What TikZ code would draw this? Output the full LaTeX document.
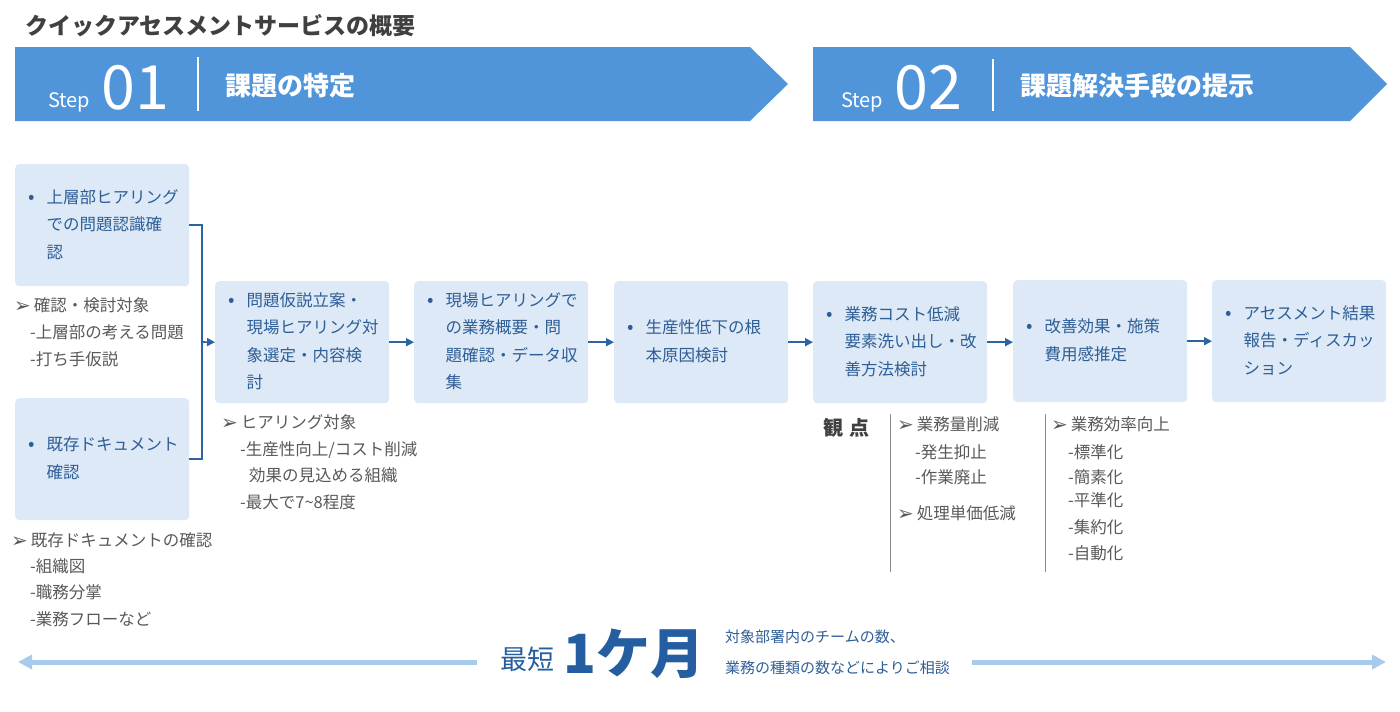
\documentclass[tikz,border=0pt]{standalone}
\usepackage{fontspec}
\setmainfont{Noto Sans CJK JP}
\newfontfamily\dejavu{DejaVu Sans}
\usetikzlibrary{arrows.meta}
\definecolor{banner}{RGB}{80,149,218}
\definecolor{boxfill}{RGB}{221,233,246}
\definecolor{boxtext}{RGB}{46,94,150}
\definecolor{conncol}{RGB}{43,99,163}
\definecolor{gtext}{RGB}{89,89,89}
\definecolor{ttl}{RGB}{64,64,64}
\definecolor{lblue}{RGB}{168,203,237}
\definecolor{dblue}{RGB}{36,94,160}
\newcommand\bl[1]{\makebox[16pt]{\fontsize{19}{19}\selectfont •}\hspace{6.5pt}\begin{tabular}[t]{@{}l@{}}#1\end{tabular}}
\newcommand\arr{{\dejavu\fontsize{20}{20}\selectfont\raisebox{-1pt}{➢}}\hspace{3pt}}
\tikzset{
  pbox/.style={fill=boxfill, rounded corners=4pt, anchor=north west,
    minimum width=174pt, minimum height=122pt, inner xsep=9pt, inner ysep=0pt,
    text width=156pt, align=left, text=boxtext,
    font=\fontsize{16.5}{27.5}\selectfont},
  conn/.style={draw=conncol, line width=1.6pt, -{Triangle[length=8pt,width=8pt]}},
  ann/.style={anchor=base west, inner sep=0pt, text=gtext, font=\fontsize{16.5}{20}\selectfont},
  bantext/.style={anchor=base west, inner sep=0pt, text=white},
  bigarrow/.style={draw=lblue, line width=5pt, -{Triangle[length=14pt,width=14pt]}},
  sep/.style={draw=gtext!70, line width=0.8pt}
}
\begin{document}
\begin{tikzpicture}[x=1pt,y=-1pt]
\useasboundingbox (0,0) rectangle (1400,712);
\renewcommand\arraystretch{1}
% title
\node[anchor=base west, inner sep=0pt, text=ttl, font=\fontsize{23}{23}\selectfont\bfseries] (title) at (25,34) {クイックアセスメントサービスの概要};
% banners
\fill[banner] (15,47) -- (750,47) -- (788,84) -- (750,121) -- (15,121) -- cycle;
\node[bantext, font=\fontsize{20}{20}\selectfont] (s1) at (48,107) {Step};
\node[bantext, font=\fontsize{61}{61}\selectfont] (n1) at (101,109) {01};
\draw[white, line width=1.5pt] (198,57) -- (198,111);
\node[bantext, font=\fontsize{26}{26}\selectfont\bfseries] (t1) at (225,95) {課題の特定};
\fill[banner] (813,47) -- (1350,47) -- (1387,84) -- (1350,121) -- (813,121) -- cycle;
\node[bantext, font=\fontsize{20}{20}\selectfont] (s2) at (841,107) {Step};
\node[bantext, font=\fontsize{61}{61}\selectfont] (n2) at (894,109) {02};
\draw[white, line width=1.5pt] (993,59) -- (993,111);
\node[bantext, font=\fontsize{26}{26}\selectfont\bfseries] (t2) at (1020,95) {課題解決手段の提示};
% boxes
\node[pbox] (A) at (15,164) {\bl{上層部ヒアリング\\での問題認識確\\認}};
\node[pbox] (B) at (15,398) {\bl{既存ドキュメント\\確認}};
\node[pbox] (C) at (215,281) {\bl{問題仮説立案・\\現場ヒアリング対\\象選定・内容検\\討}};
\node[pbox] (D) at (414,281) {\bl{現場ヒアリングで\\の業務概要・問\\題確認・データ収\\集}};
\node[pbox] (E) at (614,281) {\bl{生産性低下の根\\本原因検討}};
\node[pbox] (F) at (813,281) {\bl{業務コスト低減\\要素洗い出し・改\\善方法検討}};
\node[pbox] (G) at (1013,280) {\bl{改善効果・施策\\費用感推定}};
\node[pbox] (H) at (1212,280) {\bl{アセスメント結果\\報告・ディスカッ\\ション}};
% connectors
\coordinate (j) at (202,342);
\draw[draw=conncol, line width=1.6pt] (A.east) -| (j) |- (B.east);
\draw[conn] (j) -- (C.west);
\draw[conn] (C.east) -- (D.west);
\draw[conn] (D.east) -- (E.west);
\draw[conn] (E.east) -- (F.west);
\draw[conn] (F.east) -- (F.east -| G.west);
\draw[conn] (G.east) -- (H.west);
% annotations A
\node[ann] (a1) at (14,311) {\arr 確認・検討対象};
\node[ann] (a2) at (30,338) {-上層部の考える問題};
\node[ann] (a3) at (30,365) {-打ち手仮説};
% annotations B
\node[ann] (b1) at (11,546) {\arr 既存ドキュメントの確認};
\node[ann] (b2) at (30,572) {-組織図};
\node[ann] (b3) at (30,598) {-職務分掌};
\node[ann] (b4) at (30,625) {-業務フローなど};
% annotations C
\node[ann] (c1) at (221,428) {\arr ヒアリング対象};
\node[ann] (c2) at (240,455) {-生産性向上/コスト削減};
\node[ann] (c3) at (249,481) {効果の見込める組織};
\node[ann] (c4) at (240,508) {-最大で7\textasciitilde 8程度};
% viewpoints
\node[anchor=base west, inner sep=0pt, text=ttl, font=\fontsize{20}{20}\selectfont\bfseries] (kan) at (823,435) {観\hspace{6pt}点};
\draw[sep] (890,414) -- (890,572);
\node[ann] (v1) at (897,430) {\arr 業務量削減};
\node[ann] (v2) at (915,458) {-発生抑止};
\node[ann] (v3) at (915,483) {-作業廃止};
\node[ann] (v4) at (897,519) {\arr 処理単価低減};
\draw[sep] (1045,414) -- (1045,572);
\node[ann] (w1) at (1051,430) {\arr 業務効率向上};
\node[ann] (w2) at (1068,458) {-標準化};
\node[ann] (w3) at (1068,483) {-簡素化};
\node[ann] (w4) at (1068,506) {-平準化};
\node[ann] (w5) at (1068,533) {-集約化};
\node[ann] (w6) at (1068,559) {-自動化};
% bottom
\coordinate (la) at (477,662);
\coordinate (lb) at (18,662);
\coordinate (ra) at (972,662);
\coordinate (rb) at (1386,662);
\draw[bigarrow] (la) -- (lb);
\draw[bigarrow] (ra) -- (rb);
\node[anchor=base west, inner sep=0pt, text=dblue, font=\fontsize{27}{27}\selectfont] (sai) at (500,669) {最短};
\node[anchor=base west, inner sep=0pt, text=dblue, font=\fontsize{54}{54}\selectfont\bfseries] (mon) at (563,673) {1ケ月};
\node[anchor=base west, inner sep=0pt, text=boxtext, font=\fontsize{15}{15}\selectfont] (r1) at (725,642) {対象部署内のチームの数、};
\node[anchor=base west, inner sep=0pt, text=boxtext, font=\fontsize{15}{15}\selectfont] (r2) at (725,673) {業務の種類の数などによりご相談};
\end{tikzpicture}
\end{document}
